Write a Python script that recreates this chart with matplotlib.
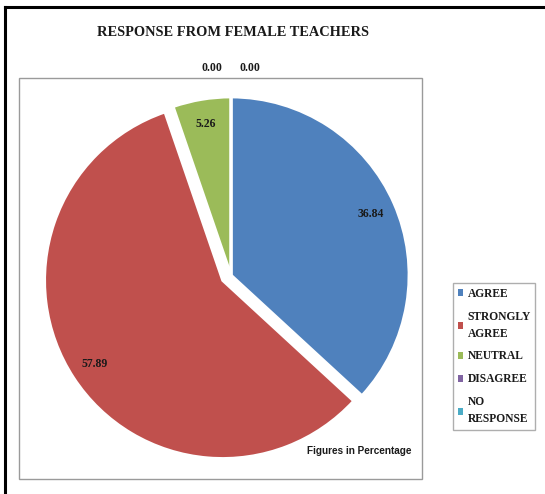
import numpy as np
import matplotlib.pyplot as plt
from matplotlib.patches import Rectangle
from matplotlib.lines import Line2D

# данные из диаграммы (в процентах)
categories = ["AGREE", "STRONGLY AGREE", "NEUTRAL", "DISAGREE", "NO RESPONSE"]
legend_labels = ["AGREE", "STRONGLY\nAGREE", "NEUTRAL", "DISAGREE", "NO\nRESPONSE"]
values = [36.84, 57.89, 5.26, 0.00, 0.00]
explode = [0, 0.056, 0, 0, 0]
colors = ["#4F81BD", "#C0504D", "#9BBB59", "#8064A2", "#4BACC6"]

W, H = 545, 494
fig = plt.figure(figsize=(W / 100, H / 100), dpi=100)

def px_box(x0, y0, x1, y1):
    # прямоугольник в пикселях (y сверху) -> доли фигуры
    return [x0 / W, 1 - y1 / H, (x1 - x0) / W, (y1 - y0) / H]

# рамка снаружи (видны только верх и левый край)
fig.add_artist(Line2D([5 / W, 1], [1 - 7 / H, 1 - 7 / H], color="black", lw=2.2,
                      transform=fig.transFigure))
fig.add_artist(Line2D([5 / W, 5 / W], [0, 1 - 7 / H], color="black", lw=2.2,
                      transform=fig.transFigure))

# область построения
b = px_box(19, 78, 422, 479)
fig.add_artist(Rectangle((b[0], b[1]), b[2], b[3], transform=fig.transFigure,
                         fill=False, edgecolor="#9a9a9a", lw=1))

# оси круга: центр (231,275), радиус 178 px, пределы +-1.2
cx, cy, R, lim = 231, 275, 178, 1.2
half = R * lim
ax = fig.add_axes(px_box(cx - half, cy - half, cx + half, cy + half))

wedges, _ = ax.pie(values, explode=explode, colors=colors, startangle=90,
                   counterclock=False, radius=1,
                   wedgeprops=dict(edgecolor="white", linewidth=2))
# pie сам ставит пределы, поэтому задаём их после
ax.set_xlim(-lim, lim)
ax.set_ylim(-lim, lim)
ax.axis("off")

serif = ["Liberation Serif", "DejaVu Serif"]
txt_col = "#1a1a1a"

# подписи значений
for w, v, ex in zip(wedges, values, explode):
    if v == 0:
        continue
    mid = np.deg2rad((w.theta1 + w.theta2) / 2)
    r = 0.86 + ex
    ax.text(r * np.cos(mid), r * np.sin(mid), f"{v:.2f}", ha="center", va="center",
            fontsize=8.5, fontweight="bold", family=serif, color=txt_col)

# нулевые категории сверху
zero_idx = [i for i, v in enumerate(values) if v == 0]
for k, i in enumerate(zero_idx):
    ax.text(-0.107 + 0.214 * k, 1.163, f"{values[i]:.2f}", ha="center", va="center",
            fontsize=8.5, fontweight="bold", family=serif, color=txt_col)

fig.text(233 / W, 1 - 32 / H, "RESPONSE FROM FEMALE TEACHERS", ha="center", va="center",
         fontsize=10.4, fontweight="bold", family=serif, color=txt_col)

fig.text(359 / W, 1 - 451 / H, "Figures in Percentage", ha="center", va="center",
         fontsize=7.2, fontweight="bold", family=["Liberation Sans", "DejaVu Sans"],
         color=txt_col)

handles = [Rectangle((0, 0), 1, 1, facecolor=c, edgecolor="none") for c in colors]
leg = fig.legend(handles, legend_labels, loc="upper left",
                 bbox_to_anchor=(453 / W, 1 - 283 / H),
                 prop=dict(family=serif, weight="bold", size=8.3),
                 handlelength=0.5, handleheight=0.5, handletextpad=0.35,
                 labelspacing=0.95, borderpad=0.4, borderaxespad=0,
                 frameon=True, fancybox=False, edgecolor="#9a9a9a")
leg.get_frame().set_linewidth(1)
for t in leg.get_texts():
    t.set_color(txt_col)
    t.set_linespacing(1.55)

plt.savefig("out.png", dpi=100)
plt.close()
